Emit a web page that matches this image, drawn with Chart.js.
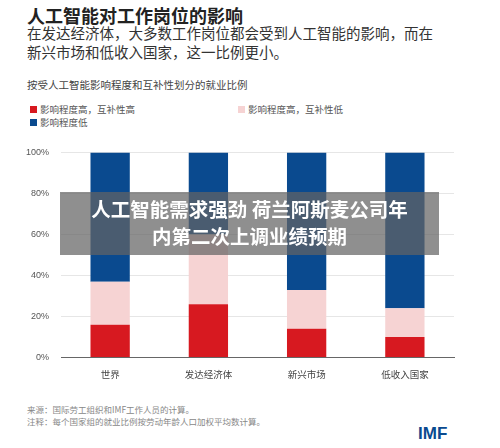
<!DOCTYPE html>
<html><head><meta charset="utf-8">
<script src="https://cdn.jsdelivr.net/npm/chart.js@4/dist/chart.umd.min.js"></script>
<style>
body{margin:0;width:500px;height:448px;background:#fff;font-family:"Noto Sans CJK SC",sans-serif;position:relative;overflow:hidden}
.t{position:absolute;white-space:nowrap}
</style></head><body>
<div class="t" style="left:27px;top:2px;font-size:18px;font-weight:bold;color:#222">人工智能对工作岗位的影响</div>
<div class="t" style="left:27px;top:23px;font-size:14.5px;color:#333;line-height:19px">在发达经济体，大多数工作岗位都会受到人工智能的影响，而在<br>新兴市场和低收入国家，这一比例更小。</div>
<div class="t" style="left:27px;top:77px;font-size:10.5px;color:#444">按受人工智能影响程度和互补性划分的就业比例</div>
<div class="t" style="left:30px;top:102px;font-size:9.5px;color:#555"><span style="display:inline-block;width:7px;height:7px;background:#d71920;margin-right:3px"></span>影响程度高，互补性高</div>
<div class="t" style="left:238px;top:102px;font-size:9.5px;color:#555"><span style="display:inline-block;width:7px;height:7px;background:#f6d3d3;margin-right:3px"></span>影响程度高，互补性低</div>
<div class="t" style="left:30px;top:115px;font-size:9.5px;color:#555"><span style="display:inline-block;width:7px;height:7px;background:#0a4a8f;margin-right:3px"></span>影响程度低</div>
<div style="position:absolute;left:14px;top:135px;width:446px;height:248px"><canvas id="c"></canvas></div>
<div class="t" style="left:27px;top:403px;font-size:8.5px;color:#888;line-height:12px">来源：国际劳工组织和IMF工作人员的计算。<br>注释：每个国家组的就业比例按劳动年龄人口加权平均数计算。</div>
<div class="t" style="left:418px;top:424px;font-size:17px;font-weight:900;color:#0a4a8f;font-family:'Liberation Sans',sans-serif">IMF</div>
<div style="position:absolute;left:60px;top:192px;width:379px;height:63px;background:rgba(100,100,100,0.72)"></div>
<div class="t" style="left:60px;top:195px;width:379px;text-align:center;font-size:19.5px;font-weight:bold;color:#fff;line-height:27px">人工智能需求强劲 荷兰阿斯麦公司年<br>内第二次上调业绩预期</div>
<script>
const categories=["世界","发达经济体","新兴市场","低收入国家"];
const highHigh=[16,26,14,10];
const highLow=[21,34,19,14];
const low=[63,40,67,76];
const tickLabels=["0%","20%","40%","60%","80%","100%"];
new Chart(document.getElementById('c'),{type:'bar',
data:{labels:categories,datasets:[
{label:"影响程度高，互补性高",data:highHigh,backgroundColor:'#d71920'},
{label:"影响程度高，互补性低",data:highLow,backgroundColor:'#f6d3d3'},
{label:"影响程度低",data:low,backgroundColor:'#0a4a8f'}]},
options:{animation:false,responsive:true,maintainAspectRatio:false,
layout:{padding:{top:1,bottom:0,right:6}},
plugins:{legend:{display:false},tooltip:{enabled:false}},
datasets:{bar:{categoryPercentage:1,barPercentage:0.4}},
scales:{x:{stacked:true,grid:{display:false},border:{color:'#666'},ticks:{color:'#444',font:{size:9.5,family:'Noto Sans CJK SC'}}},
y:{stacked:true,min:0,max:100,ticks:{stepSize:20,color:'#555',padding:12,font:{size:9},callback:(v)=>tickLabels[v/20]},grid:{color:'#e6e6e6',drawTicks:false},border:{display:false}}}}});
</script></body></html>
